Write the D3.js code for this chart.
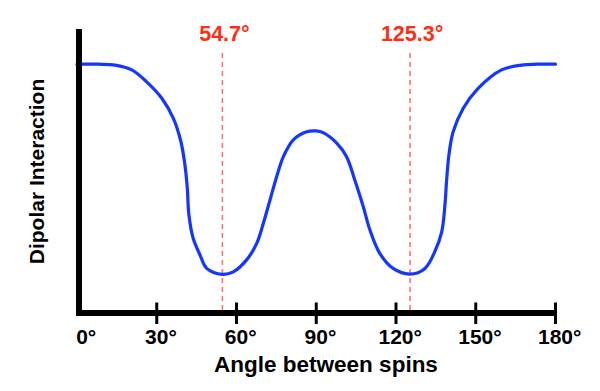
<!DOCTYPE html>
<html>
<head>
<meta charset="utf-8">
<script src="https://cdn.jsdelivr.net/npm/d3@7"></script>
<style>
  body { margin: 0; background: #fff; }
  svg { display: block; font-family: "Liberation Sans", Arial, sans-serif; }
</style>
</head>
<body>
<svg id="chart" width="600" height="391"></svg>
<script>
// Angle between spins (degrees)
const angles = [0, 8, 14.3, 20.6, 26.2, 31.9, 36.2, 39.1, 40.6, 41.5, 42.1, 43.7, 46.3, 48.8, 54.7,
  58.8, 63.8, 67.6, 70.1, 72.6, 75.1, 77.6, 81.3, 86.4, 90, 92.6, 97.7, 101.4, 104.5, 107.7,
  110.2, 113.9, 118.9, 125.3, 130.9, 134.6, 137.2, 138.4, 139.0, 139.9, 141.5, 145.3, 150.9,
  159.7, 167.2, 173, 180];
// Dipolar interaction (arbitrary units)
const interaction = [87.6, 87.6, 87.3, 85.6, 81.4, 75.6, 68.6, 60.3, 52.1, 43.9, 34.5, 26.3, 20.4, 15.7, 13.6,
  14.5, 18.7, 24.5, 31.6, 39.8, 48.0, 55.0, 60.9, 63.8, 64.1, 63.5, 59.8, 55.0, 46.8, 37.4,
  29.2, 21.0, 15.7, 13.7, 15.7, 21.6, 28.6, 38.0, 46.2, 55.6, 63.8, 72.1, 79.1,
  85.6, 87.3, 87.6, 87.6];
const xTicks = [0, 30, 60, 90, 120, 150, 180];
const tickLabels = ["0", "30", "60", "90", "120", "150", "180"];
const magicAngles = [54.7, 125.3];
const magicLabels = ["54.7°", "125.3°"];
const xTitle = "Angle between spins";
const yTitle = "Dipolar Interaction";

const svg = d3.select("#chart");
const x = d3.scaleLinear().domain([0, 180]).range([77, 555.5]);
const y = d3.scaleLinear().domain([0, 100]).range([313, 29]);

// magic-angle dashed lines
magicAngles.forEach((a, i) => {
  svg.append("line")
    .attr("x1", x(a)).attr("x2", x(a))
    .attr("y1", 53).attr("y2", 313)
    .attr("stroke", "#ff6a6a").attr("stroke-width", 1.5)
    .attr("stroke-dasharray", "5,4");
  svg.append("text")
    .attr("x", x(a) + 2).attr("y", 40.5)
    .attr("text-anchor", "middle")
    .attr("font-size", 21.5).attr("font-weight", "bold")
    .attr("fill", "#ff2d14")
    .text(magicLabels[i]);
});

// curve
const line = d3.line()
  .x((d, i) => x(angles[i]))
  .y(d => y(d))
  .curve(d3.curveCatmullRom.alpha(0.5));
svg.append("path")
  .datum(interaction)
  .attr("d", line)
  .attr("fill", "none")
  .attr("stroke", "#1436ff")
  .attr("stroke-width", 3.2)
  .attr("stroke-linejoin", "round")
  .attr("stroke-linecap", "round");

// x axis line and ticks
svg.append("line")
  .attr("x1", 76).attr("x2", x(180) + 1.5)
  .attr("y1", 313).attr("y2", 313)
  .attr("stroke", "#000").attr("stroke-width", 6);
xTicks.forEach((t, i) => {
  if (t > 0) {
    svg.append("line")
      .attr("x1", x(t)).attr("x2", x(t))
      .attr("y1", 302.5).attr("y2", 324)
      .attr("stroke", "#000").attr("stroke-width", 3);
  }
  const g = svg.append("g");
  const num = g.append("text")
    .attr("y", 344)
    .attr("font-size", 21).attr("font-weight", "bold")
    .attr("fill", "#000")
    .text(tickLabels[i]);
  const w = num.node().getComputedTextLength();
  const cx = t === 0 ? x(t) + 5 : x(t);
  num.attr("x", cx - w / 2);
  g.append("text")
    .attr("x", cx + w / 2).attr("y", 344)
    .attr("font-size", 21).attr("font-weight", "bold")
    .attr("fill", "#000")
    .text("°");
});

// y axis line
svg.append("line")
  .attr("x1", 79).attr("x2", 79)
  .attr("y1", 29).attr("y2", 316)
  .attr("stroke", "#000").attr("stroke-width", 6);

// titles
svg.append("text")
  .attr("x", 326).attr("y", 371.5)
  .attr("text-anchor", "middle")
  .attr("font-size", 22.5).attr("font-weight", "bold")
  .attr("fill", "#000")
  .text(xTitle);
svg.append("text")
  .attr("transform", "translate(44,171.5) rotate(-90)")
  .attr("text-anchor", "middle")
  .attr("font-size", 21).attr("font-weight", "bold")
  .attr("fill", "#000")
  .text(yTitle);
</script>
</body>
</html>
